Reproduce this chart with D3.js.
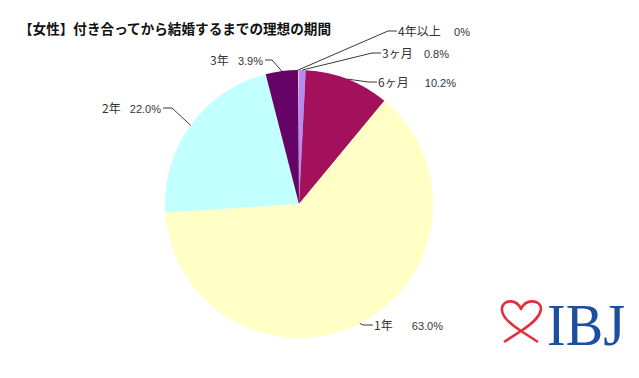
<!DOCTYPE html>
<html><head><meta charset="utf-8">
<script src="https://cdn.jsdelivr.net/npm/d3@7"></script>
<style>body{margin:0;background:#fff}svg{display:block}</style>
</head><body>
<svg id="c" width="639" height="378"></svg>
<script>
const title = "【女性】付き合ってから結婚するまでの理想の期間";
const categories = ["3ヶ月", "6ヶ月", "1年", "2年", "3年", "4年以上"];
const values = [0.8, 10.2, 63.0, 22.0, 3.9, 0];
const pctLabels = ["0.8%", "10.2%", "63.0%", "22.0%", "3.9%", "0%"];
const colors = ["#b58af2", "#a3115c", "#ffffc6", "#c2ffff", "#650466", "#8a8a8a"];
// label layout: [nameStartX, pctEndX, centerY, elbowX]
const labelLayout = [
  [382, 449, 53, 372],
  [378, 456, 82, 368],
  [374, 443, 325, 363],
  [102, 161, 108, 172],
  [210, 263, 60, 272],
  [398, 470, 31, 388]
];

const svg = d3.select("#c");
const cx = 299, cy = 204, r = 134;
const total = 100;

svg.append("text").attr("x", 19).attr("y", 34)
  .attr("font-family", "'Noto Sans CJK JP', sans-serif")
  .attr("font-weight", "bold").attr("font-size", 13.6).attr("fill", "#111")
  .text(title);

const pie = d3.pie().sort(null).value(d => d).startAngle(0).endAngle(2 * Math.PI * d3.sum(values) / total);
const arcs = pie(values);
const arc = d3.arc().innerRadius(0).outerRadius(r);
const g = svg.append("g").attr("transform", `translate(${cx},${cy})`);
g.selectAll("path").data(arcs).join("path")
  .attr("d", arc).attr("fill", (d, i) => colors[i]);

arcs.forEach((a, i) => {
  const mid = (a.startAngle + a.endAngle) / 2;
  const px = cx + r * Math.sin(mid), py = cy - r * Math.cos(mid);
  const [nx, ex, ly, elbow] = labelLayout[i];
  const left = nx < cx;
  const endX = left ? ex + 2 : nx - 1;
  svg.append("path")
    .attr("d", `M${px},${py}L${elbow},${ly}L${endX},${ly}`)
    .attr("fill", "none").attr("stroke", "#222").attr("stroke-width", 0.9);
  svg.append("text").attr("x", nx).attr("y", ly + 4.5)
    .attr("font-family", "'Noto Sans CJK JP', sans-serif").attr("font-size", 12).attr("fill", "#333")
    .text(categories[i]);
  svg.append("text").attr("x", ex).attr("y", ly + 4.5).attr("text-anchor", "end")
    .attr("font-family", "'Liberation Sans Narrow', 'Liberation Sans', sans-serif").attr("font-size", 11).attr("fill", "#333")
    .text(pctLabels[i]);
});

svg.append("path")
  .attr("d", "M538,342 L521,331 C509,323 501,316 502,308 C503,300 516,298 521,309 C526,298 540,300 541,308 C541,316 533,323 521,331 L504,342")
  .attr("fill", "none").attr("stroke", "#e2303e").attr("stroke-width", 2.6).attr("stroke-linejoin", "round");
svg.append("text").attr("x", 547).attr("y", 345)
  .attr("font-family", "'Liberation Serif', serif").attr("font-size", 60).attr("fill", "#1c4f9f")
  .attr("textLength", 78).attr("lengthAdjust", "spacingAndGlyphs")
  .text("IBJ");
</script>
</body></html>
